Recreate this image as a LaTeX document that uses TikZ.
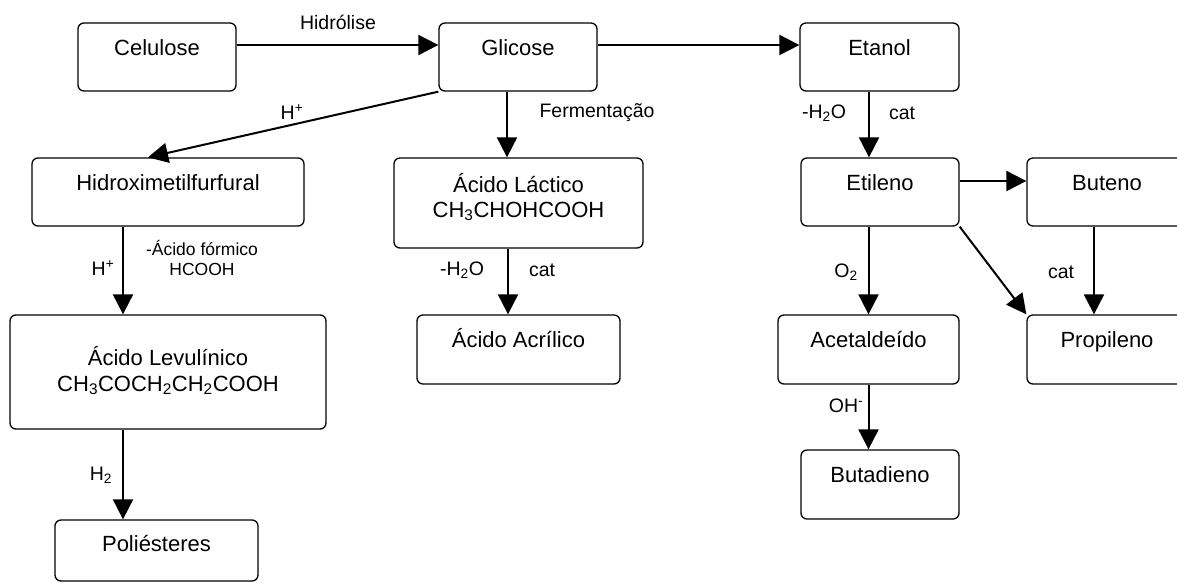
\documentclass[tikz,border=0pt]{standalone}
\usepackage{fontspec}
\setmainfont{Liberation Sans}
\usetikzlibrary{arrows.meta}
\newcommand\boxfont{\fontsize{22}{26}\selectfont}
\newcommand\edgefont{\fontsize{19.5}{23}\selectfont}
\newcommand\notefont{\fontsize{17.5}{20}\selectfont}

\begin{document}
\begin{tikzpicture}[x=1pt,y=-1pt,
  box/.style={draw, rounded corners=6pt, line width=1.3pt, inner sep=0pt},
  ln/.style={anchor=base, font=\boxfont, inner sep=0pt, yshift=-#1},
  arr/.style={line width=2pt, -{Triangle[length=20pt,width=20pt]}},
  elab/.style={font=\edgefont, inner sep=0pt},
  nlab/.style={font=\notefont, inner sep=0pt, align=center}]

\useasboundingbox (0,0) rectangle (1177,582);

% first row
\node[box, minimum width=158pt, minimum height=68pt,
      label={[ln=33pt]north:Celulose}] (cel) at (157,57) {};
\node[box, minimum width=158pt, minimum height=68pt,
      label={[ln=33pt]north:Glicose}] (glic) at (518,57) {};
\node[box, minimum width=159pt, minimum height=68pt,
      label={[ln=33pt]north:Etanol}] (etan) at (879.5,57) {};

% second row
\node[box, minimum width=272pt, minimum height=68pt,
      label={[ln=33pt]north:Hidroximetilfurfural}] (hmf) at (168,192) {};
\node[box, minimum width=249pt, minimum height=90pt,
      label={[ln=35pt]north:Ácido Láctico},
      label={[ln=60pt]north:CH\textsubscript{3}CHOHCOOH}] (lac) at (518.5,203) {};
\node[box, minimum width=158pt, minimum height=68pt,
      label={[ln=33pt]north:Etileno}] (etil) at (880,192) {};
\node[box, minimum width=160pt, minimum height=68pt,
      label={[ln=33pt]north:Buteno}] (but) at (1107,192) {};

% third row
\node[box, minimum width=316pt, minimum height=114pt,
      label={[ln=51pt]north:Ácido Levulínico},
      label={[ln=77pt]north:CH\textsubscript{3}COCH\textsubscript{2}CH\textsubscript{2}COOH}] (lev) at (168,372) {};
\node[box, minimum width=203pt, minimum height=69pt,
      label={[ln=33pt]north:Ácido Acrílico}] (acr) at (518.5,349.5) {};
\node[box, minimum width=181pt, minimum height=69pt,
      label={[ln=33pt]north:Acetaldeído}] (acet) at (868.5,349.5) {};
\node[box, minimum width=160pt, minimum height=69pt,
      label={[ln=33pt]north:Propileno}] (prop) at (1107,349.5) {};

% last row
\node[box, minimum width=158pt, minimum height=69pt,
      label={[ln=33pt]north:Butadieno}] (buta) at (880,484.5) {};
\node[box, minimum width=203pt, minimum height=61pt,
      label={[ln=32pt]north:Poliésteres}] (poli) at (156.5,550.5) {};

% reactions
\draw[arr] ([yshift=12pt]cel.east) -- ([yshift=12pt]glic.west);
\draw[arr] ([yshift=12pt]glic.east) -- ([yshift=12pt]etan.west);
\draw[arr] (glic.south west) -- ([xshift=-20pt]hmf.north);
\draw[arr] ([xshift=-11pt]glic.south) -- ([xshift=-11pt]glic.south |- lac.north);
\draw[arr] ([xshift=-10.5pt]etan.south) -- ([xshift=-10.5pt]etan.south |- etil.north);
\draw[arr] ([yshift=11pt]etil.east) -- ([yshift=11pt]etil.east -| but.west);
\draw[arr] (etil.south -| acet.north) -- (acet.north);
\draw[arr] (etil.south east) -- (prop.north west);
\draw[arr] ([xshift=-13pt]but.south) -- ([xshift=-13pt]but.south |- prop.north);
\draw[arr] (acet.south) -- (acet.south |- buta.north);
\draw[arr] ([xshift=-45pt]hmf.south) -- ([xshift=-45pt]hmf.south |- lev.north);
\draw[arr] ([xshift=-45pt]lev.south) -- ([xshift=-45pt]lev.south |- poli.north);
\draw[arr] ([xshift=-10.5pt]lac.south) -- ([xshift=-10.5pt]lac.south |- acr.north);

% reaction conditions
\node[elab] (tHid) at (338,22) {Hidrólise};
\node[elab] (tHa) at (292,112) {H\textsuperscript{+}};
\node[elab] (tFer) at (597,113) {Fermentação};
\node[elab] (tWa) at (824,113) {-H\textsubscript{2}O};
\node[elab] (tCa) at (902,113) {cat};
\node[elab] (tWb) at (462,270) {-H\textsubscript{2}O};
\node[elab] (tCb) at (542,270) {cat};
\node[elab] (tHb) at (103,268) {H\textsuperscript{+}};
\node[nlab] (tFor) at (202,258) {-Ácido fórmico\\HCOOH};
\node[elab] (tO) at (846,272) {O\textsubscript{2}};
\node[elab] (tCc) at (1061,272) {cat};
\node[elab] (tOH) at (846,406) {OH\textsuperscript{-}};
\node[elab] (tH2) at (101,475) {H\textsubscript{2}};
\end{tikzpicture}
\end{document}
